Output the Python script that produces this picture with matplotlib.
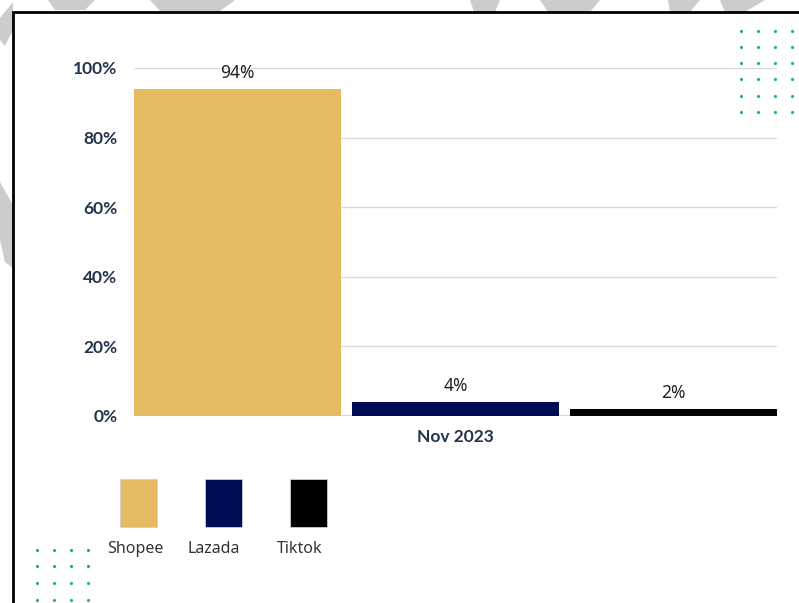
import matplotlib.pyplot as plt
from matplotlib.patches import Rectangle, Polygon
import numpy as np

# data
platforms = ["Shopee", "Lazada", "Tiktok"]
shares = [0.94, 0.04, 0.02]
period = "Nov 2023"
colors = ["#E5BC62", "#000D55", "#000000"]

plt.rcParams['font.family'] = ['Noto Sans', 'DejaVu Sans']

W, H = 799, 603
fig = plt.figure(figsize=(W / 100, H / 100), dpi=100)

# overlay in pixel coords for frame, watermark and decorations
deco = fig.add_axes([0, 0, 1, 1], zorder=0)
deco.set_xlim(0, W)
deco.set_ylim(H, 0)
deco.axis("off")

# faint grey watermark pieces peeking out around the frame
gray = "#cccccc"
for pts in [[(0, 18), (13, 2), (13, 30), (5, 46), (0, 40)],
            [(48, 0), (95, 0), (85, 10), (55, 10)],
            [(150, 0), (235, 0), (220, 11), (160, 11)],
            [(470, 0), (500, 0), (495, 12), (474, 12)],
            [(540, 0), (600, 0), (590, 12), (548, 12)],
            [(668, 0), (700, 0), (690, 12), (670, 12)],
            [(720, 0), (765, 0), (745, 12), (725, 12)],
            [(0, 182), (13, 205), (13, 268), (5, 262), (0, 240)]]:
    deco.add_patch(Polygon(pts, closed=True, color=gray, lw=0))

# white page with black frame
deco.add_patch(Rectangle((13, 12), W, H, facecolor="white", edgecolor="black", lw=2))

# teal dot grids
teal = "#1aa3a8"
dx, dy = np.meshgrid([741, 758, 775, 792], [31, 47, 63, 79, 96, 112])
deco.scatter(dx.ravel(), dy.ravel(), s=5, color=teal, lw=0)
dx, dy = np.meshgrid([37, 54, 71, 88], [550, 566, 583, 600])
deco.scatter(dx.ravel(), dy.ravel(), s=5, color=teal, lw=0)

# legend: boxes with labels under them
leg_x = [120, 205, 290]
lbl_x = [135, 214, 300]
for i, name in enumerate(platforms):
    deco.add_patch(Rectangle((leg_x[i], 479), 37, 48, facecolor=colors[i],
                             edgecolor="#d0d0d0", lw=0.6))
    deco.text(lbl_x[i], 549, name, ha="center", va="center",
              fontsize=11.5, color="#333333")

# main chart
ax = fig.add_axes([134 / W, 1 - 416 / H, 643 / W, 348 / H], zorder=1)
ax.patch.set_alpha(0)
width = 0.95
x = np.arange(len(platforms))
bars = ax.bar(x, shares, width=width, color=colors, zorder=2)
for b, v in zip(bars, shares):
    ax.annotate(f"{v:.0%}", (b.get_x() + b.get_width() / 2, v),
                xytext=(0, 5), textcoords="offset points",
                ha="center", va="bottom", fontsize=12.5, color="#222222")

ax.set_xlim(-width / 2, len(platforms) - 1 + width / 2)
ax.set_ylim(0, 1)
ax.set_yticks(np.arange(0, 1.01, 0.2))
ax.set_yticklabels([f"{int(t * 100)}%" for t in np.arange(0, 1.01, 0.2)])
ax.set_xticks([1])
ax.set_xticklabels([period])
ax.grid(axis="y", color="#d5dbe0", lw=1, zorder=0)
for s in ["top", "right", "left", "bottom"]:
    ax.spines[s].set_visible(False)
ax.axhline(0, color="#c9d0d6", lw=1.2, zorder=1)
ax.tick_params(length=0, labelsize=12.5, labelcolor="#23344a", pad=12)
ax.tick_params(axis="x", pad=9)
for lbl in ax.get_yticklabels() + ax.get_xticklabels():
    lbl.set_family(["Lato", "DejaVu Sans"])
    lbl.set_fontweight("bold")

fig.savefig("out.png", dpi=100)
